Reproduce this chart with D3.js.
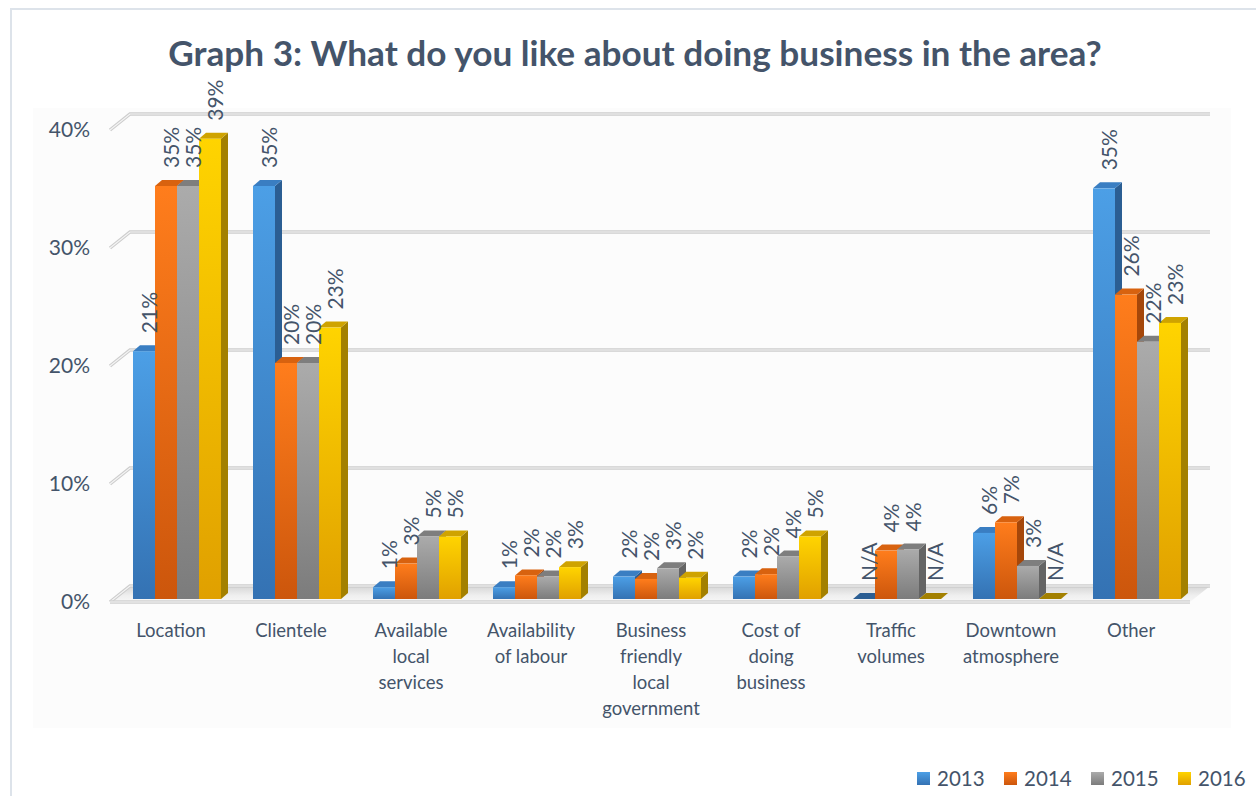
<!DOCTYPE html>
<html>
<head>
<meta charset="utf-8">
<script src="https://cdn.jsdelivr.net/npm/d3@7"></script>
<style>
  body { margin: 0; background: #fff; }
  svg { display: block; font-family: Lato, "Open Sans", sans-serif; }
</style>
</head>
<body>
<svg id="chart" width="1256" height="796"></svg>
<script>
// data
const categories = [
  "Location",
  "Clientele",
  "Available\nlocal\nservices",
  "Availability\nof labour",
  "Business\nfriendly\nlocal\ngovernment",
  "Cost of\ndoing\nbusiness",
  "Traffic\nvolumes",
  "Downtown\natmosphere",
  "Other",
]
const years = ["2013", "2014", "2015", "2016"]
const v2013 = [21, 35, 1, 1, 1.9, 1.9, null, 5.6, 34.8]
const v2014 = [35, 20, 3, 2, 1.7, 2.1, 4.1, 6.5, 25.8]
const v2015 = [35, 20, 5.3, 1.9, 2.6, 3.6, 4.2, 2.8, 21.8]
const v2016 = [39, 23, 5.3, 2.7, 1.8, 5.3, null, null, 23.4]
const yTicks = [0, 10, 20, 30, 40]
const title = "Graph 3: What do you like about doing business in the area?"

const series = [v2013, v2014, v2015, v2016]

const textColor = "#44546a"
const colors = {
  2013: { top: "#4c9fe6", bottom: "#3472b3", side: "#2b5e93", cap: "#3a7ec2" },
  2014: { top: "#ff7d1c", bottom: "#cc560c", side: "#a5470a", cap: "#d8620f" },
  2015: { top: "#ababab", bottom: "#7c7c7c", side: "#646464", cap: "#7e7e7e" },
  2016: { top: "#ffd400", bottom: "#e0a000", side: "#a38000", cap: "#cfa300" },
}

const wall = { dx: 20, dy: -16 } // depth of the back wall
const bar = { dx: 7, dy: -6 } // depth of each column

const svg = d3.select("#chart")
const defs = svg.append("defs")

//////////////////////////////////////////////////////////////////////
// SCALES
//////////////////////////////////////////////////////////////////////
const x = d3
  .scaleBand()
  .domain(categories)
  .range([117, 1197])
  .paddingInner(32 / 120)
  .paddingOuter(16 / 120)
const xs = d3.scaleBand().domain(years).range([0, x.bandwidth()])
const y = d3.scaleLinear().domain([0, 40]).range([599, 127])
const y0 = y(0)

// gradients for columns and legend
years.forEach((yr) => {
  const g = defs
    .append("linearGradient")
    .attr("id", "grad" + yr)
    .attr("x1", 0).attr("y1", 0).attr("x2", 0).attr("y2", 1)
  g.append("stop").attr("offset", "0%").attr("stop-color", colors[yr].top)
  g.append("stop").attr("offset", "100%").attr("stop-color", colors[yr].bottom)
})
const floorGrad = defs
  .append("linearGradient")
  .attr("id", "floorGrad")
  .attr("x1", 0).attr("y1", 0).attr("x2", 0).attr("y2", 1)
floorGrad.append("stop").attr("offset", "0%").attr("stop-color", "#d6d6d6")
floorGrad.append("stop").attr("offset", "60%").attr("stop-color", "#efefef")
floorGrad.append("stop").attr("offset", "100%").attr("stop-color", "#f7f7f7")

//////////////////////////////////////////////////////////////////////
// FRAME
//////////////////////////////////////////////////////////////////////
svg
  .append("rect")
  .attr("x", 11).attr("y", 9)
  .attr("width", 1400).attr("height", 1000)
  .attr("fill", "#fff")
  .attr("stroke", "#dde3ea")
  .attr("stroke-width", 2)

svg
  .append("rect")
  .attr("x", 33).attr("y", 108)
  .attr("width", 1198).attr("height", 620)
  .attr("fill", "#fcfcfc")

svg
  .append("text")
  .attr("class", "title")
  .attr("x", 635)
  .attr("y", 66)
  .attr("text-anchor", "middle")
  .attr("font-weight", 700)
  .attr("font-size", 32)
  .attr("fill", textColor)
  .text(title)

// squeeze the title to the reference width
const tNode = svg.select(".title").node()
const tw = tNode.getComputedTextLength()
svg.select(".title").attr("font-size", (32 * 934) / tw)

//////////////////////////////////////////////////////////////////////
// WALL GRIDLINES + FLOOR
//////////////////////////////////////////////////////////////////////
const xl = x.range()[0] - 7 // front-left corner
const xr = x.range()[1] - 7 // front-right corner

const floorPts = [
  [xl, y0 + 3],
  [xr, y0 + 3],
  [xr + wall.dx, y0 + 3 + wall.dy],
  [xl + wall.dx, y0 + 3 + wall.dy],
]
svg
  .append("polygon")
  .attr("points", floorPts.map((p) => p.join(",")).join(" "))
  .attr("fill", "url(#floorGrad)")

const gridPath = (t) =>
  d3.line()([
    [xl, y(t) + 3],
    [xl + wall.dx, y(t) + 3 + wall.dy],
    [xr + wall.dx, y(t) + 3 + wall.dy],
  ])

const grid = svg.append("g")
grid
  .selectAll("path.g1")
  .data(yTicks)
  .join("path")
  .attr("class", "g1")
  .attr("d", gridPath)
  .attr("fill", "none")
  .attr("stroke", "#cdcdcd")
  .attr("stroke-width", 3.5)
grid
  .selectAll("path.g2")
  .data(yTicks)
  .join("path")
  .attr("class", "g2")
  .attr("d", gridPath)
  .attr("fill", "none")
  .attr("stroke", "#f4f4f4")
  .attr("stroke-width", 1.2)

// front edge of the floor
const frontEdge = d3.line()([
  [xl, y0 + 3],
  [xr, y0 + 3],
])
svg.append("path").attr("d", frontEdge).attr("stroke", "#d0d0d0").attr("stroke-width", 3.5)
svg.append("path").attr("d", frontEdge).attr("stroke", "#f4f4f4").attr("stroke-width", 1.2)

//////////////////////////////////////////////////////////////////////
// AXES
//////////////////////////////////////////////////////////////////////
const yAxis = svg
  .append("g")
  .attr("transform", "translate(93,3)")
  .call(
    d3.axisLeft(y).tickValues(yTicks).tickSize(0).tickFormat((d) => d + "%")
  )
yAxis.select(".domain").remove()
yAxis
  .selectAll("text")
  .attr("font-family", "Lato, 'Open Sans', sans-serif")
  .attr("font-size", 21)
  .attr("fill", textColor)

const xAxis = svg
  .append("g")
  .attr("transform", `translate(-6,${y0 + 31})`)
  .call(d3.axisBottom(x).tickSize(0).tickPadding(0))
xAxis.select(".domain").remove()
xAxis
  .selectAll("text")
  .attr("font-family", "Lato, 'Open Sans', sans-serif")
  .attr("font-size", 18.5)
  .attr("fill", textColor)
  .attr("dy", null)
  .attr("dominant-baseline", "central")
  .each(function (d) {
    const t = d3.select(this)
    t.text(null)
    d.split("\n").forEach((line, i) => {
      t.append("tspan").attr("x", 0).attr("y", i * 26).text(line)
    })
  })

//////////////////////////////////////////////////////////////////////
// COLUMNS
//////////////////////////////////////////////////////////////////////
const bars = []
categories.forEach((c, ci) => {
  years.forEach((yr, si) => {
    bars.push({ cat: c, year: yr, value: series[si][ci] })
  })
})

const poly = (pts) => pts.map((p) => p.join(",")).join(" ")

svg
  .append("g")
  .selectAll("g")
  .data(bars)
  .join("g")
  .each(function (d) {
    const g = d3.select(this)
    const bx = x(d.cat) + xs(d.year)
    const w = xs.bandwidth()
    const c = colors[d.year]
    if (d.value == null) {
      // N/A: only a flat lid on the floor
      g.append("polygon")
        .attr("points", poly([
          [bx, y0],
          [bx + w, y0],
          [bx + w + bar.dx, y0 + bar.dy],
          [bx + bar.dx, y0 + bar.dy],
        ]))
        .attr("fill", c.side)
      return
    }
    const yt = y(d.value)
    g.append("polygon")
      .attr("points", poly([
        [bx + w, yt],
        [bx + w + bar.dx, yt + bar.dy],
        [bx + w + bar.dx, y0 + bar.dy],
        [bx + w, y0],
      ]))
      .attr("fill", c.side)
    g.append("polygon")
      .attr("points", poly([
        [bx, yt],
        [bx + w, yt],
        [bx + w + bar.dx, yt + bar.dy],
        [bx + bar.dx, yt + bar.dy],
      ]))
      .attr("fill", c.cap)
    g.append("rect")
      .attr("x", bx)
      .attr("y", yt)
      .attr("width", w)
      .attr("height", y0 - yt)
      .attr("fill", `url(#grad${d.year})`)
  })

// data labels
svg
  .append("g")
  .selectAll("text")
  .data(bars)
  .join("text")
  .attr("transform", (d) => {
    const cx = x(d.cat) + xs(d.year) + xs.bandwidth() / 2 + 4
    const yt = y(d.value == null ? 0 : d.value) - 18
    return `translate(${cx},${yt}) rotate(-90)`
  })
  .attr("dominant-baseline", "central")
  .attr("font-size", 21)
  .attr("fill", textColor)
  .text((d) => (d.value == null ? "N/A" : Math.round(d.value) + "%"))

//////////////////////////////////////////////////////////////////////
// LEGEND
//////////////////////////////////////////////////////////////////////
const legend = svg
  .append("g")
  .selectAll("g")
  .data(years)
  .join("g")
  .attr("transform", (d, i) => `translate(${917 + i * 87},772)`)
legend
  .append("rect")
  .attr("width", 13)
  .attr("height", 13)
  .attr("fill", (d) => `url(#grad${d})`)
legend
  .append("text")
  .attr("x", 20)
  .attr("y", 14)
  .attr("font-size", 20.5)
  .attr("fill", textColor)
  .text((d) => d)
</script>
</body>
</html>
